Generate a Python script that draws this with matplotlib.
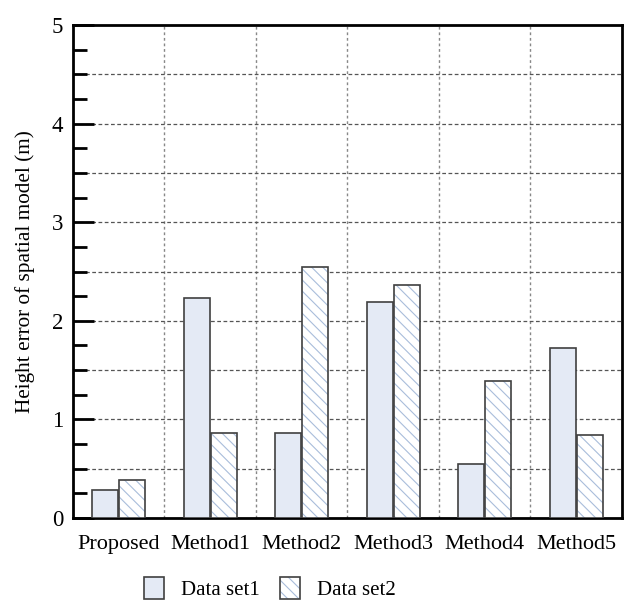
import matplotlib
matplotlib.use("Agg")
import matplotlib.pyplot as plt
import numpy as np
from matplotlib.patches import Patch
from matplotlib.ticker import MultipleLocator

categories = ["Proposed", "Method1", "Method2", "Method3", "Method4", "Method5"]
data_set1 = [0.28, 2.23, 0.86, 2.19, 0.55, 1.72]
data_set2 = [0.39, 0.86, 2.55, 2.36, 1.39, 0.84]
series_labels = ["Data set1", "Data set2"]

plt.rcParams['font.family'] = ['Liberation Serif', 'DejaVu Serif']
plt.rcParams['hatch.linewidth'] = 0.8

fig = plt.figure(figsize=(6.27, 6.03), dpi=100)
ax = fig.add_axes([0.1164, 0.141, 0.8756, 0.8175])

x = np.arange(len(categories))
w = 0.285
fill1 = '#e4eaf5'
edge = '#404040'
hatch_col = '#a9bddb'
hatch = '\\\\\\'
ax.bar(x - w/2 - 0.005, data_set1, width=w, color=fill1, edgecolor=edge, linewidth=1.2, zorder=3)
ax.bar(x + w/2 + 0.005, data_set2, width=w, color='white', edgecolor=hatch_col, linewidth=0,
       hatch=hatch, zorder=3)
ax.bar(x + w/2 + 0.005, data_set2, width=w, fill=False, edgecolor=edge, linewidth=1.2, zorder=4)

ax.set_xlim(-0.5, len(categories) - 0.5)
ax.set_ylim(0, 5)
ax.set_xticks(x)
ax.set_xticklabels(categories, fontsize=16)
ax.tick_params(axis='x', length=0, pad=12)
ax.yaxis.set_major_locator(MultipleLocator(1))
ax.yaxis.set_minor_locator(MultipleLocator(0.25))
ax.tick_params(axis='y', which='major', direction='in', length=15, width=2, labelsize=16.5, pad=7)
ax.tick_params(axis='y', which='minor', direction='in', length=10, width=2)
ax.set_ylabel("Height error of spatial model (m)", fontsize=15.3, labelpad=12)

# grid
for b in np.arange(0.5, len(categories) - 0.5, 1.0):
    ax.axvline(b, color='#888888', linestyle=(0, (2, 2)), linewidth=1.0, zorder=1)
for yv in np.arange(0.5, 5.0, 0.5):
    ax.axhline(yv, color='#555555', linestyle=(0, (3, 2)), linewidth=0.9, zorder=1)

for s in ax.spines.values():
    s.set_linewidth(2)
    s.set_color('black')

h1 = Patch(facecolor=fill1, edgecolor=edge, linewidth=1.2)
h2a = Patch(facecolor='white', edgecolor=hatch_col, linewidth=0, hatch=hatch)
h2b = Patch(fill=False, edgecolor=edge, linewidth=1.2)
fig.legend([h1, (h2a, h2b)], series_labels, loc='lower left', bbox_to_anchor=(0.2, -0.026),
           ncol=2, frameon=False, fontsize=15, handlelength=0.95, handleheight=1.3,
           columnspacing=1.0, handletextpad=0.8)

fig.savefig("out.png", dpi=100)
